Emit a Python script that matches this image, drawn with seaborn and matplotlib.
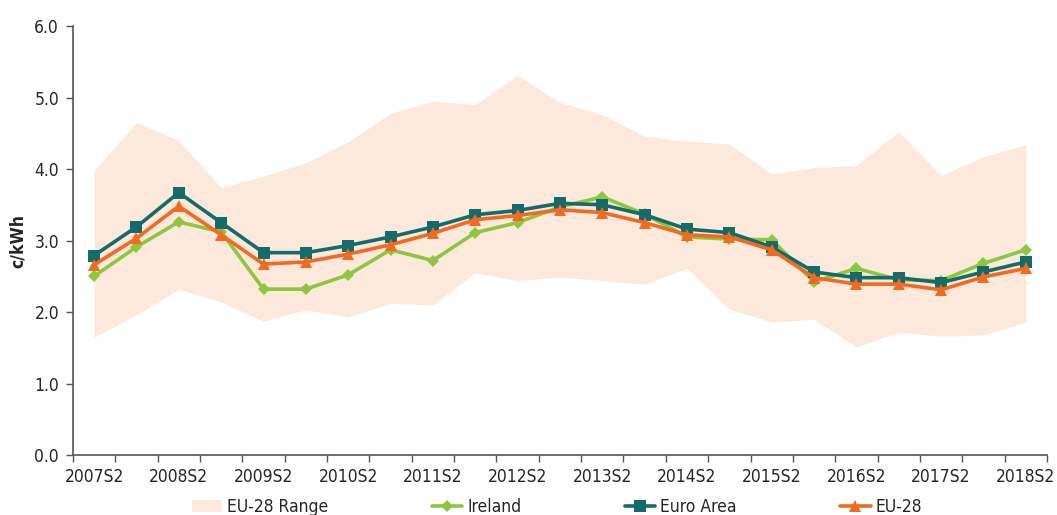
import numpy as np
import pandas as pd
import matplotlib
matplotlib.use("Agg")
import matplotlib.pyplot as plt
from matplotlib.patches import Patch
from matplotlib.lines import Line2D
import seaborn as sns

# -- Data -----------------------------------------------------
periods = ["2007S2", "2008S1", "2008S2", "2009S1", "2009S2", "2010S1",
           "2010S2", "2011S1", "2011S2", "2012S1", "2012S2", "2013S1",
           "2013S2", "2014S1", "2014S2", "2015S1", "2015S2", "2016S1",
           "2016S2", "2017S1", "2017S2", "2018S1", "2018S2"]
ireland   = [2.50, 2.91, 3.26, 3.12, 2.32, 2.32, 2.52, 2.87, 2.72, 3.11,
             3.25, 3.47, 3.61, 3.37, 3.05, 3.02, 3.01, 2.42, 2.61, 2.45,
             2.44, 2.68, 2.87]
euro_area = [2.79, 3.19, 3.67, 3.25, 2.83, 2.83, 2.93, 3.05, 3.19, 3.36,
             3.42, 3.52, 3.50, 3.36, 3.16, 3.11, 2.91, 2.56, 2.48, 2.48,
             2.41, 2.56, 2.70]
eu28      = [2.66, 3.03, 3.48, 3.08, 2.67, 2.70, 2.81, 2.94, 3.10, 3.29,
             3.35, 3.43, 3.39, 3.25, 3.08, 3.05, 2.87, 2.48, 2.39, 2.39,
             2.31, 2.49, 2.61]
range_low  = [1.65, 1.96, 2.32, 2.14, 1.87, 2.03, 1.93, 2.12, 2.10, 2.55,
              2.44, 2.49, 2.44, 2.39, 2.61, 2.04, 1.86, 1.90, 1.51, 1.72,
              1.66, 1.68, 1.86]
range_high = [3.98, 4.65, 4.40, 3.74, 3.90, 4.09, 4.38, 4.78, 4.95, 4.90,
              5.31, 4.93, 4.76, 4.46, 4.39, 4.35, 3.93, 4.02, 4.05, 4.52,
              3.91, 4.17, 4.34]

df = pd.DataFrame({"idx": np.arange(len(periods)), "period": periods,
                   "Ireland": ireland, "Euro Area": euro_area,
                   "EU-28": eu28, "low": range_low, "high": range_high})

# -- Style ----------------------------------------------------
sns.set_theme(style="white")
plt.rcParams["font.family"] = ["DejaVu Sans"]
plt.rcParams["font.stretch"] = "condensed"

C_BAND   = "#fce9dc"
C_GREEN  = "#8dc63f"
C_TEAL   = "#136b6a"
C_ORANGE = "#f26a21"
FS = 12.5

fig = plt.figure(figsize=(10.57, 5.15), dpi=100)
ax = fig.add_axes([0.069, 0.1165, 0.9215, 0.833])

ax.fill_between(df["idx"], df["low"], df["high"], color=C_BAND, lw=0)

sns.lineplot(data=df, x="idx", y="Ireland", ax=ax, color=C_GREEN,
             marker="D", markersize=6, markeredgewidth=0, linewidth=2.6)
sns.lineplot(data=df, x="idx", y="Euro Area", ax=ax, color=C_TEAL,
             marker="s", markersize=8, markeredgewidth=0, linewidth=2.6)
sns.lineplot(data=df, x="idx", y="EU-28", ax=ax, color=C_ORANGE,
             marker="^", markersize=8.5, markeredgewidth=0, linewidth=2.6)

ax.set_xlim(-0.5, len(periods) - 0.5)
ax.set_ylim(0, 6)
ax.set_yticks(np.arange(0, 6.01, 1.0))
ax.set_yticklabels([f"{v:.1f}" for v in np.arange(0, 6.01, 1.0)], fontsize=FS)

# tick marks at category boundaries, labels on every S2 period
ax.set_xticks(np.arange(-0.5, len(periods), 1.0))
ax.set_xticklabels([])
ax.set_xticks(df["idx"][::2], minor=True)
ax.set_xticklabels(df["period"][::2], minor=True, fontsize=FS)
ax.tick_params(axis="x", which="major", length=5, width=1, color="#555555",
               direction="out", bottom=True)
ax.tick_params(axis="x", which="minor", length=0, pad=9, bottom=True)
ax.tick_params(axis="y", length=5, width=1, color="#555555",
               direction="out", left=True, pad=5)

ax.set_xlabel("")
ax.set_ylabel("c/kWh", fontsize=FS, fontweight="bold")
ax.yaxis.set_label_coords(-0.047, 0.5)

for s in ["top", "right"]:
    ax.spines[s].set_visible(False)
for s in ["left", "bottom"]:
    ax.spines[s].set_color("#555555")
    ax.spines[s].set_linewidth(1.2)

handles = [
    Patch(facecolor=C_BAND, edgecolor="none", label="EU-28 Range"),
    Line2D([], [], color=C_GREEN, marker="D", markersize=6, lw=2.6,
           markeredgewidth=0, label="Ireland"),
    Line2D([], [], color=C_TEAL, marker="s", markersize=8, lw=2.6,
           markeredgewidth=0, label="Euro Area"),
    Line2D([], [], color=C_ORANGE, marker="^", markersize=8.5, lw=2.6,
           markeredgewidth=0, label="EU-28"),
]
fig.legend(handles=handles, loc="center", bbox_to_anchor=(0.527, 0.015),
           ncol=4, frameon=False, fontsize=FS, handlelength=1.75,
           handletextpad=0.3, columnspacing=5.95)

fig.savefig("out.png", dpi=100)
